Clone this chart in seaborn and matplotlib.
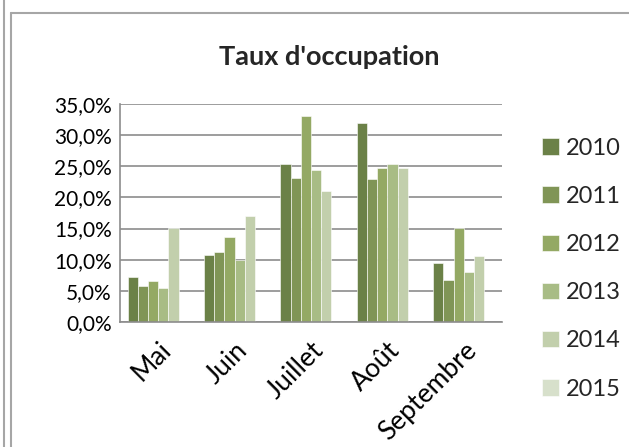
import numpy as np
import pandas as pd
import matplotlib
matplotlib.use("Agg")
import matplotlib.pyplot as plt
from matplotlib.ticker import FuncFormatter, MultipleLocator
from matplotlib.lines import Line2D
import seaborn as sns

# Données (2015 : pas de valeurs)
mois = ["Mai", "Juin", "Juillet", "Août", "Septembre"]
annees = ["2010", "2011", "2012", "2013", "2014", "2015"]
taux_2010 = [7.3, 10.8, 25.4, 31.9, 9.4]
taux_2011 = [5.8, 11.2, 23.2, 23.0, 6.7]
taux_2012 = [6.6, 13.6, 33.1, 24.7, 15.1]
taux_2013 = [5.4, 9.9, 24.4, 25.4, 8.0]
taux_2014 = [15.1, 17.1, 21.0, 24.8, 10.6]
taux_2015 = [np.nan, np.nan, np.nan, np.nan, np.nan]
couleurs = ["#6e8b3d", "#84a04b", "#98b558", "#abc57c", "#c4d5a6", "#d8e4c7"]

series = [taux_2010, taux_2011, taux_2012, taux_2013, taux_2014, taux_2015]
rows = []
for annee, vals in zip(annees, series):
    for m, v in zip(mois, vals):
        rows.append({"Mois": m, "Année": annee, "Taux": v / 100})
df = pd.DataFrame(rows)

sns.set_theme(style="white")
plt.rcParams["font.family"] = ["Lato", "DejaVu Sans"]

fig = plt.figure(figsize=(6.29, 4.47), dpi=100)
ax = fig.add_axes([0.1908, 0.2796, 0.798 - 0.1908, 0.7673 - 0.2796])

sns.barplot(data=df, x="Mois", y="Taux", hue="Année", order=mois,
            hue_order=annees, palette=couleurs, width=0.8, ax=ax,
            edgecolor="white", linewidth=0.4, errorbar=None)

ax.set_ylim(0, 0.35)
ax.yaxis.set_major_locator(MultipleLocator(0.05))
ax.yaxis.set_major_formatter(FuncFormatter(lambda v, p: f"{v*100:.1f}%".replace(".", ",")))
ax.set_xlabel("")
ax.set_ylabel("")
ax.grid(axis="y", color="#8c8c8c", linewidth=1.2)
ax.set_axisbelow(True)
for s in ["top", "right"]:
    ax.spines[s].set_visible(False)
for s in ["left", "bottom"]:
    ax.spines[s].set_color("#8c8c8c")
    ax.spines[s].set_linewidth(1.2)
ax.tick_params(axis="y", labelsize=15, length=0, pad=6, labelcolor="black")
ax.tick_params(axis="x", labelsize=19, length=0, pad=11, labelcolor="black")
plt.setp(ax.get_xticklabels(), rotation=45, ha="right", rotation_mode="anchor")

ax.set_title("Taux d'occupation", fontsize=19.5, fontweight="bold", pad=28, x=0.547)

sns.move_legend(ax, "center left", bbox_to_anchor=(0.862, 0.399),
                bbox_transform=fig.transFigure, frameon=False, title=None,
                fontsize=17, handlelength=0.7, handleheight=0.7,
                handletextpad=0.3, labelspacing=1.15, borderpad=0,
                borderaxespad=0)

# cadre du graphique
fig.add_artist(Line2D([11 / 629, 11 / 629], [0, 1 - 13 / 447], color="#a6a6a6", lw=1.5))
fig.add_artist(Line2D([11 / 629, 1], [1 - 13 / 447, 1 - 13 / 447], color="#a6a6a6", lw=1.5))
fig.add_artist(Line2D([4 / 629, 4 / 629], [0, 1], color="#a6a6a6", lw=1.5))

fig.savefig("out.png", dpi=100)
